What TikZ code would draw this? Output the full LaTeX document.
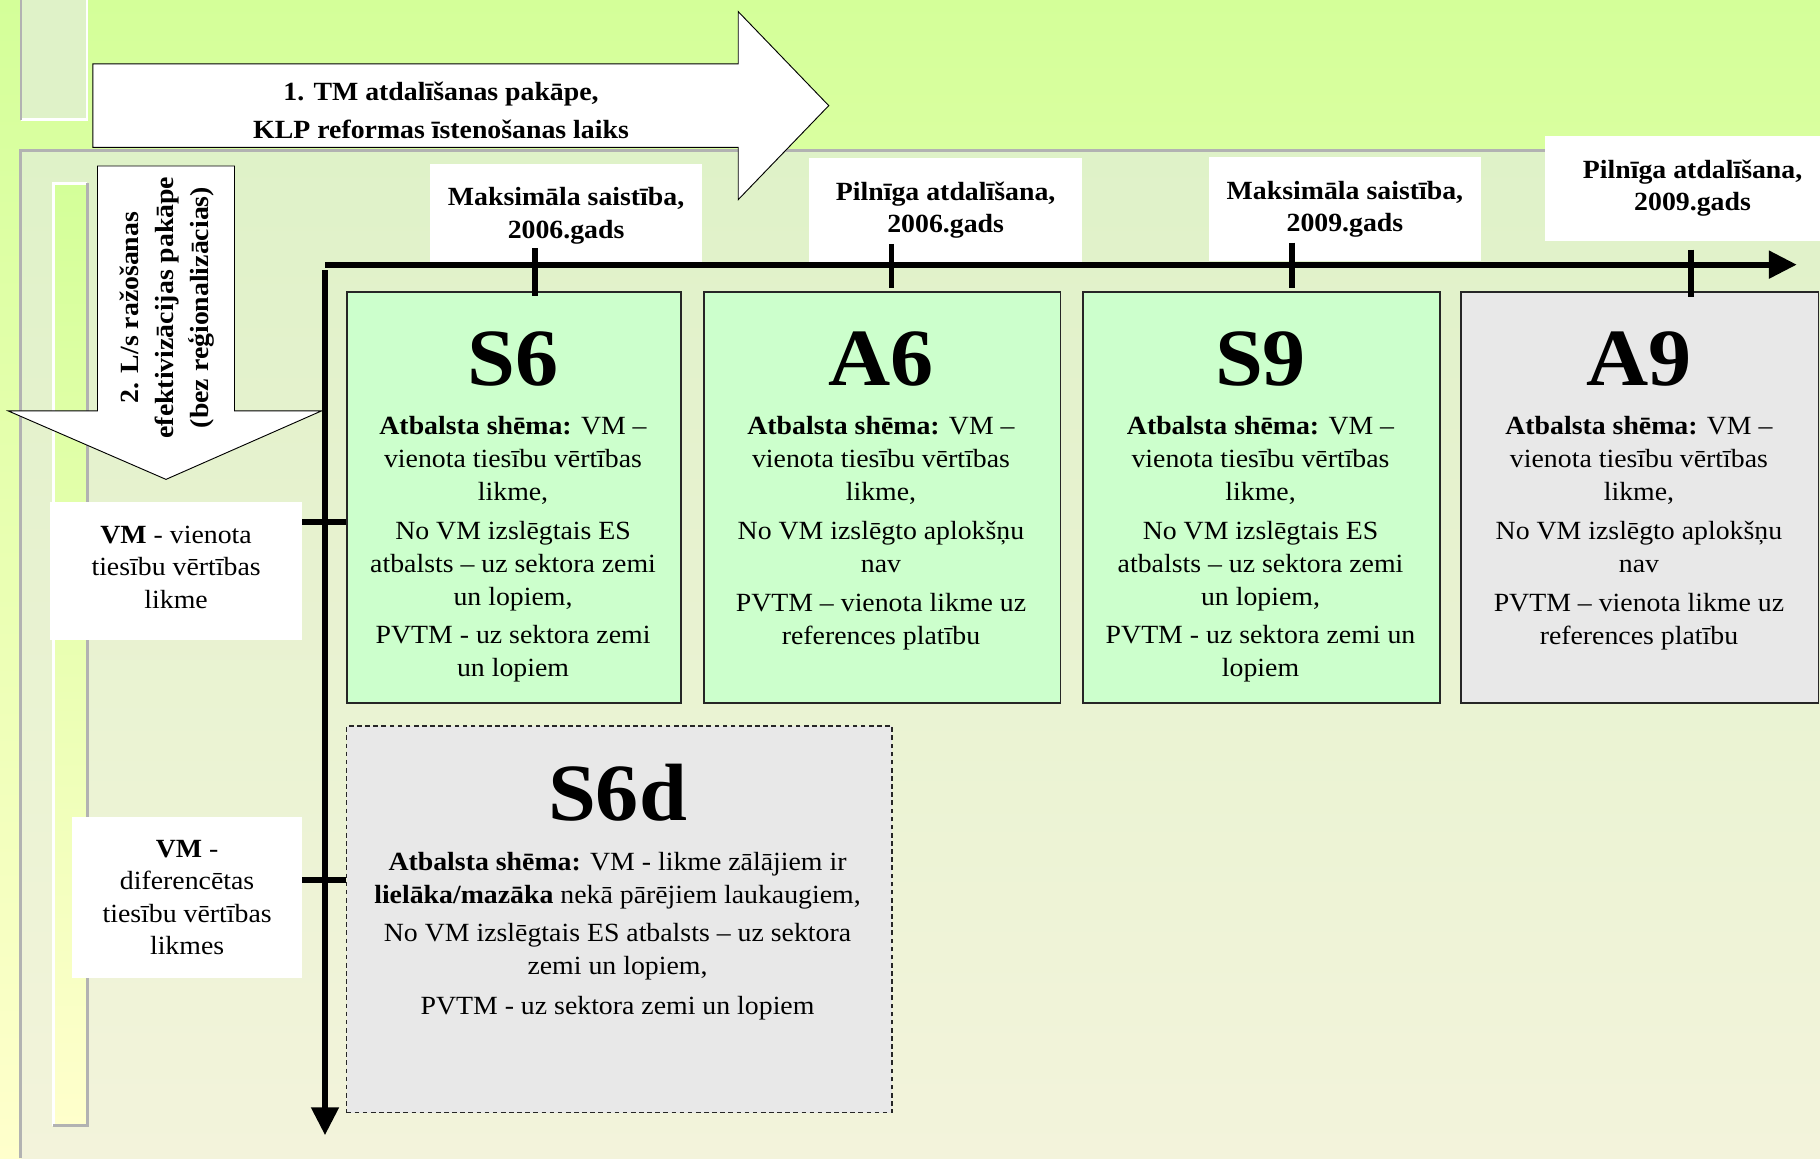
\documentclass[tikz,border=0pt]{standalone}
\usepackage{fontspec}
\setmainfont[FakeStretch=1.06]{Liberation Serif}
\usepackage{tikz}
\usetikzlibrary{positioning, arrows.meta}
\definecolor{topg}{RGB}{212,255,153}
\definecolor{boty}{RGB}{255,255,204}
\definecolor{panelt}{RGB}{223,242,200}
\definecolor{panelb}{RGB}{243,243,219}
\definecolor{schg}{RGB}{204,255,204}
\definecolor{schgr}{RGB}{232,232,232}
\definecolor{edgeg}{RGB}{178,178,178}

\begin{document}
\begin{tikzpicture}[x=1pt, y=-1pt,
          sch/.style={rectangle, draw=black!85, line width=1.5pt, fill=schg,
            anchor=north west, inner sep=0pt, minimum height=354pt},
          schx/.style={sch, fill=schgr},
          lbl/.style={rectangle, fill=white, align=center, inner sep=0pt,
            anchor=north west, font=\fontsize{22.6}{28}\selectfont\bfseries},
          lft/.style={rectangle, fill=white, align=center, inner sep=0pt,
            anchor=north west, font=\fontsize{22.6}{28}\selectfont},
          ttl/.style={inner sep=0pt, font=\fontsize{70}{70}\selectfont\bfseries},
          txt/.style={align=center, inner sep=0pt, font=\fontsize{22.6}{28.5}\selectfont},
          blk/.style={fill=white, draw=black, line width=0.8pt},
          ->/.style={-{Triangle[length=24pt, width=23pt]}, line width=5pt},
          tk/.style={line width=5pt}]
        \useasboundingbox (0,0) rectangle (1568,998);
        % background
        \shade[top color=topg, bottom color=boty] (0,0) rectangle (1568,998);
        \shade[top color=panelt, bottom color=panelb] (18,130) rectangle (1568,998);
        \draw[edgeg, line width=2.5pt] (18,998) -- (18,130) -- (1568,130);
        \fill[panelt] (18,0) rectangle (75,103);
        \draw[white, line width=2pt] (75,0) -- (75,103) -- (18,103);
        \draw[edgeg, line width=2pt] (18,0) -- (18,103);
        \shade[top color=topg, bottom color=boty] (46,158) rectangle (75,970);
        \draw[white, line width=2.5pt] (46,970) -- (46,158) -- (75,158);
        \draw[edgeg, line width=2.5pt] (75,158) -- (75,970) -- (46,970);

        % block arrows
        \draw[blk] (80,55) -- (636,55) -- (636,10) -- (714,91) -- (636,172)
          -- (636,127) -- (80,127) -- cycle;
        \node[txt, font=\fontsize{22.6}{33}\selectfont\bfseries] (tm) at (380,95)
          {1. TM atdalīšanas pakāpe,\\KLP reformas īstenošanas laiks};
        \draw[blk] (84,143) -- (202,143) -- (202,354) -- (277,354) -- (143,413)
          -- (7,354) -- (84,354) -- cycle;
        \node[txt, rotate=90, font=\fontsize{22.6}{30.5}\selectfont\bfseries] (ls) at (144,265)
          {2. L/s ražošanas\\efektivizācijas pakāpe\\(bez reģionalizācias)};

        % time points
        \node[lbl, minimum width=235pt, minimum height=89pt] (m06) at (370,141)
          {Maksimāla saistība,\\2006.gads};
        \node[lbl, minimum width=235pt, minimum height=90pt] (p06) at (697,136)
          {Pilnīga atdalīšana,\\2006.gads};
        \node[lbl, minimum width=235pt, minimum height=90pt] (m09) at (1041,135)
          {Maksimāla saistība,\\2009.gads};
        \node[lbl, minimum width=254pt, minimum height=90pt] (p09) at (1331,117)
          {Pilnīga atdalīšana,\\2009.gads};

        % schemes
        \node[sch, minimum width=288pt] (s6) at (298,251) {};
        \node[sch, minimum width=307pt] (a6) at (606,251) {};
        \node[sch, minimum width=308pt] (s9) at (932,251) {};
        \node[schx, minimum width=308pt] (a9) at (1258,251) {};
        \node[schx, dash pattern=on 4pt off 3pt, line width=1.2pt,
          minimum width=470pt, minimum height=333pt] (s6d) at (298,625) {};

        \node[ttl] (s6n) at (442,309) {S6};
        \node[ttl] (a6n) at (759,309) {A6};
        \node[ttl] (s9n) at (1086,309) {S9};
        \node[ttl] (a9n) at (1412,309) {A9};
        \node[ttl] (s6dn) at (532,683) {S6d};

        \node[txt, below=26pt of s6n] (s6t)
          {\textbf{Atbalsta shēma:} VM –\\vienota tiesību vērtības\\likme,\\[4.5pt]
           No VM izslēgtais ES\\atbalsts – uz sektora zemi\\un lopiem,\\[4.5pt]
           PVTM - uz sektora zemi\\un lopiem};
        \node[txt, below=26pt of a6n] (a6t)
          {\textbf{Atbalsta shēma:} VM –\\vienota tiesību vērtības\\likme,\\[4.5pt]
           No VM izslēgto aplokšņu\\nav\\[5.5pt]
           PVTM – vienota likme uz\\references platību};
        \node[txt, below=26pt of s9n] (s9t)
          {\textbf{Atbalsta shēma:} VM –\\vienota tiesību vērtības\\likme,\\[4.5pt]
           No VM izslēgtais ES\\atbalsts – uz sektora zemi\\un lopiem,\\[4.5pt]
           PVTM - uz sektora zemi un\\lopiem};
        \node[txt, below=26pt of a9n] (a9t)
          {\textbf{Atbalsta shēma:} VM –\\vienota tiesību vērtības\\likme,\\[4.5pt]
           No VM izslēgto aplokšņu\\nav\\[5.5pt]
           PVTM – vienota likme uz\\references platību};
        \node[txt, below=26pt of s6dn] (s6dt)
          {\textbf{Atbalsta shēma:} VM - likme zālājiem ir\\
           \textbf{lielāka/mazāka} nekā pārējiem laukaugiem,\\[4.5pt]
           No VM izslēgtais ES atbalsts – uz sektora\\zemi un lopiem,\\[6pt]
           PVTM - uz sektora zemi un lopiem};

        % support rates
        \node[lft, minimum width=217pt, minimum height=119pt] (vm1) at (43,432)
          {\textbf{VM} - vienota\\tiesību vērtības\\likme\\[-22pt]};
        \node[lft, minimum width=198pt, minimum height=138pt] (vm2) at (62,704)
          {\textbf{VM} -\\diferencētas\\tiesību vērtības\\likmes};

        % axes
        \coordinate (h0) at (280,228);
        \coordinate (h1) at (1548,228);
        \coordinate (v0) at (280,233);
        \coordinate (v1) at (280,978);
        \draw [->] (h0) to (h1);
        \draw [->] (v0) to (v1);
        \foreach \x/\a/\b [count=\i] in {461/214/255, 768/210/248, 1113/209/248, 1457/215/256}{
          \coordinate (ta\i) at (\x,\a);
          \coordinate (tb\i) at (\x,\b);
          \draw [tk] (ta\i) to (tb\i);
        }
        \coordinate (r1) at (0,450);
        \coordinate (r2) at (0,758);
        \draw [tk] (vm1.east |- r1) to (s6.west |- r1);
        \draw [tk] (vm2.east |- r2) to (s6d.west |- r2);
      \end{tikzpicture}
\end{document}
